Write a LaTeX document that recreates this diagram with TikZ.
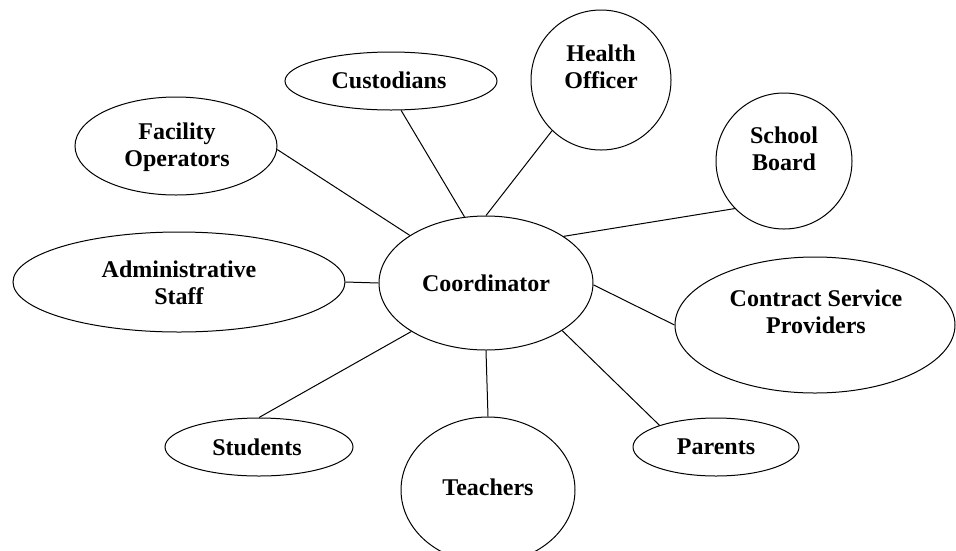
\documentclass[tikz,border=0pt]{standalone}
\usepackage{fontspec}
\setmainfont{Liberation Serif}
\usetikzlibrary{shapes.geometric}

\tikzset{
  bubble/.style={draw, ellipse, inner sep=0pt, line width=1pt},
  roletext/.style={align=center, inner sep=0pt, font=\fontsize{24}{27}\selectfont\bfseries},
  link/.style={line width=1pt}
}

\begin{document}
\begin{tikzpicture}[x=1pt,y=-1pt]
    \useasboundingbox (0,0) rectangle (956,550);
    % the bubbles
    \node[bubble,minimum width=214pt,minimum height=134pt] (coord) at (486,283) {};
    \node[bubble,minimum width=212pt,minimum height=58pt] (cust) at (391,81) {};
    \node[bubble,minimum width=140pt,minimum height=140pt] (health) at (601,80) {};
    \node[bubble,minimum width=136pt,minimum height=136pt] (board) at (784,161) {};
    \node[bubble,minimum width=202pt,minimum height=98pt] (facil) at (176,146) {};
    \node[bubble,minimum width=332pt,minimum height=100pt] (admin) at (179,282) {};
    \node[bubble,minimum width=280pt,minimum height=136pt] (contr) at (815,325) {};
    \node[bubble,minimum width=188pt,minimum height=58pt] (stud) at (259,447) {};
    \node[bubble,minimum width=174pt,minimum height=146pt] (teach) at (488,490) {};
    \node[bubble,minimum width=166pt,minimum height=58pt] (par) at (716,447) {};
    % the texts
    \node[roletext] (coordtxt) at (486,283) {Coordinator};
    \node[roletext] (custtxt) at (389,80) {Custodians};
    \node[roletext] (healthtxt) at (601,67) {Health\\Officer};
    \node[roletext] (boardtxt) at (784,149) {School\\Board};
    \node[roletext] (faciltxt) at (177,147) {Facility\\Operators};
    \node[roletext] (admintxt) at (179,283) {Administrative\\Staff};
    \node[roletext] (contrtxt) at (816,312) {Contract Service\\Providers};
    \node[roletext] (studtxt) at (257,447) {Students};
    \node[roletext] (teachtxt) at (488,487) {Teachers};
    \node[roletext] (partxt) at (716,447) {Parents};
    % the links
    \draw[link] (cust.-71) -- (coord.108);
    \draw[link] (health.-134) -- (coord.90);
    \draw[link] (facil.-2) -- (coord.148);
    \draw[link] (board.-136) -- (coord.31);
    \draw[link] (admin.0) -- (coord.180);
    \draw[link] (contr.180) -- (coord.-1);
    \draw[link] (stud.90) -- (coord.-147);
    \draw[link] (teach.90) -- (coord.-90);
    \draw[link] (par.159) -- (coord.-32);
\end{tikzpicture}
\end{document}
